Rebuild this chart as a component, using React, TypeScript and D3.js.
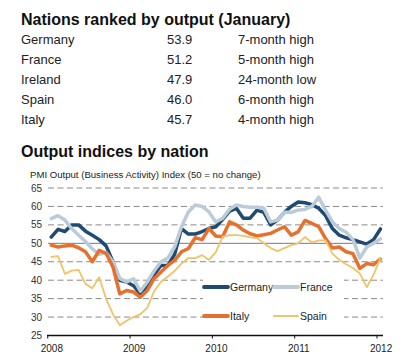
import React from "react";
import * as d3 from "d3";

const tableNations = ["Germany", "France", "Ireland", "Spain", "Italy"];
const tableValues = ["53.9", "51.2", "47.9", "46.0", "45.7"];
const tableNotes = ["7-month high", "5-month high", "24-month low", "6-month high", "4-month high"];

const yearLabels = ["2008", "2009", "2010", "2011", "2012"];
const yTicks = [25, 30, 35, 40, 45, 50, 55, 60, 65];

// monthly, Jan 2008 .. Jan 2012
const germany = [51.7, 53.8, 53.2, 55.0, 55.0, 53.3, 52.2, 51.0, 49.3, 45.0, 40.0, 39.5, 38.5, 36.3, 38.0, 41.5,
  44.0, 44.0, 47.0, 54.0, 52.5, 52.5, 53.2, 54.0, 54.5, 56.5, 58.7, 59.5, 56.8, 56.8, 59.0, 58.4,
  55.0, 56.3, 58.4, 60.0, 61.2, 61.0, 60.5, 59.5, 57.5, 54.0, 52.2, 51.5, 51.0, 50.4, 49.8, 51.0, 53.9];
const france = [56.7, 57.5, 56.3, 54.0, 52.2, 50.5, 48.5, 47.0, 47.5, 45.0, 40.5, 39.5, 40.4, 37.0, 39.5, 42.5,
  45.0, 46.0, 49.0, 54.5, 58.5, 60.4, 60.0, 58.5, 55.8, 56.8, 59.2, 60.4, 60.0, 59.8, 59.8, 59.5,
  55.8, 56.3, 58.4, 58.4, 59.0, 59.2, 60.0, 62.5, 59.0, 55.8, 54.0, 53.0, 51.0, 46.0, 49.0, 50.0, 51.2];
const italy = [49.5, 49.0, 49.3, 49.5, 48.8, 47.7, 45.0, 48.1, 47.3, 43.6, 36.3, 37.2, 36.8, 35.4, 37.2, 40.4,
  42.2, 44.0, 45.4, 47.7, 48.6, 51.5, 51.0, 54.0, 52.0, 51.8, 55.8, 55.0, 53.6, 52.6, 52.0, 52.3,
  52.7, 53.6, 54.5, 52.2, 53.1, 56.2, 55.4, 54.5, 51.3, 48.7, 49.0, 47.7, 47.2, 43.2, 44.5, 44.2, 45.7];
const spain = [46.3, 46.5, 41.7, 42.6, 42.8, 39.0, 37.8, 40.8, 35.0, 30.8, 27.8, 29.0, 30.0, 30.8, 32.5, 37.0,
  39.5, 41.0, 42.5, 44.5, 46.0, 46.0, 46.8, 45.5, 47.6, 51.8, 52.2, 52.2, 52.0, 51.6, 51.4, 50.0,
  48.7, 47.9, 48.7, 49.5, 50.0, 51.7, 50.2, 50.8, 50.8, 47.2, 45.5, 44.3, 43.3, 41.8, 38.1, 41.5, 46.0];

const seriesNames = ["Germany", "France", "Italy", "Spain"];
const seriesData = [germany, france, italy, spain];
const seriesColors = ["#1f4b73", "#bccbd8", "#e6702e", "#f0c36a"];
const seriesWidths = [3.5, 3.5, 3.5, 1.8];

const FONT = "'Liberation Sans', Arial, sans-serif";

export default function App() {
  const x = d3.scaleLinear().domain([0, 48]).range([47.75, 377]);
  const y = d3.scaleLinear().domain([25, 65]).range([335.5, 188]);
  const line = d3
    .line<number>()
    .x((_, i) => x(i + 0.5))
    .y((d) => y(d));

  const legendPos = [
    { lx: 204, ly: 287 },
    { lx: 274, ly: 287 },
    { lx: 204, ly: 316 },
    { lx: 274, ly: 316 },
  ];

  return (
    <svg
      width={403}
      height={358}
      style={{ position: "absolute", left: 0, top: 0, background: "#fff" }}
      fontFamily={FONT}
    >
      <rect x={0} y={0} width={403} height={358} fill="#fff" />
      <text x={21} y={25} fontSize={16} fontWeight="bold" fill="#111">
        Nations ranked by output (January)
      </text>
      {tableNations.map((n, i) => (
        <g key={n} fontSize={13} fill="#222">
          <text x={21} y={44 + i * 20}>{n}</text>
          <text x={167} y={44 + i * 20}>{tableValues[i]}</text>
          <text x={238} y={44 + i * 20}>{tableNotes[i]}</text>
        </g>
      ))}
      <text x={21} y={156.5} fontSize={16} fontWeight="bold" fill="#111">
        Output indices by nation
      </text>
      <text x={30} y={178} fontSize={9.6} fill="#222">
        PMI Output (Business Activity) Index (50 = no change)
      </text>

      {yTicks.map((t) => (
        <g key={t}>
          {t !== 25 && (
            <line
              x1={48}
              x2={383}
              y1={y(t)}
              y2={y(t)}
              stroke={t === 50 ? "#7a7a7a" : "#8a8a8a"}
              strokeWidth={1}
              strokeDasharray={t === 50 ? undefined : "6,3.5"}
            />
          )}
          <text x={42} y={y(t) + 3.5} fontSize={10} fill="#333" textAnchor="end">
            {t}
          </text>
        </g>
      ))}

      <rect x={203} y={274} width={141} height={49} fill="#fff" />

      {seriesData.map((s, k) => (
        <path
          key={seriesNames[k]}
          d={line(s) || ""}
          fill="none"
          stroke={seriesColors[k]}
          strokeWidth={seriesWidths[k]}
          strokeLinejoin="round"
          strokeLinecap="round"
        />
      ))}

      <line x1={47} x2={383} y1={335.5} y2={335.5} stroke="#111" strokeWidth={1.3} />
      {yearLabels.map((lab, k) => (
        <g key={lab}>
          <line x1={x(k * 12)} x2={x(k * 12)} y1={335.5} y2={338.5} stroke="#111" strokeWidth={1} />
          <text x={x(k * 12 + 0.6)} y={352} fontSize={10} fill="#222" textAnchor="middle">
            {lab}
          </text>
        </g>
      ))}

      {seriesNames.map((n, k) => (
        <g key={n}>
          <line
            x1={legendPos[k].lx}
            x2={legendPos[k].lx + 24}
            y1={legendPos[k].ly}
            y2={legendPos[k].ly}
            stroke={seriesColors[k]}
            strokeWidth={k === 3 ? 2 : 3.8}
            strokeLinecap="round"
          />
          <text x={legendPos[k].lx + 26} y={legendPos[k].ly + 4} fontSize={10.5} fill="#222">
            {n}
          </text>
        </g>
      ))}
    </svg>
  );
}
